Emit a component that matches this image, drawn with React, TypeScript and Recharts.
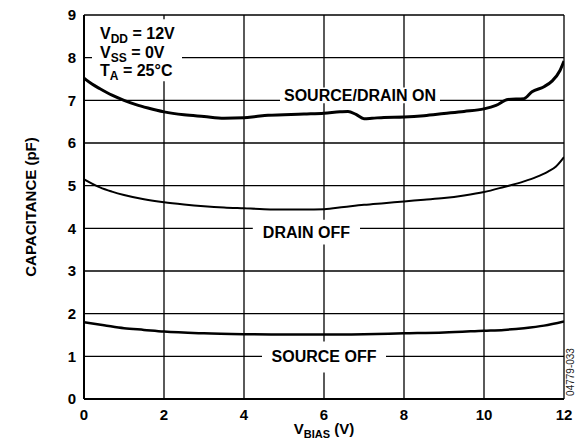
import React from "react";
import { CartesianGrid, Line, LineChart, ReferenceArea, XAxis, YAxis } from "recharts";

// values
const xTicks = [0, 2, 4, 6, 8, 10, 12];
const yTicks = [0, 1, 2, 3, 4, 5, 6, 7, 8, 9];

const onBias = [0, 0.2, 0.4, 0.7, 1.0, 1.3, 1.6, 2.0, 2.5, 3.0, 3.5, 4.0, 4.3, 4.6, 5.0, 5.5, 6.0, 6.4, 6.6, 6.8, 7.0, 7.2, 7.5, 8.0, 8.5, 9.0, 9.5, 10.0, 10.3, 10.6, 11.0, 11.2, 11.5, 11.7, 11.9, 12.0];
const onCap = [7.52, 7.38, 7.27, 7.12, 7.0, 6.9, 6.82, 6.73, 6.66, 6.62, 6.58, 6.59, 6.62, 6.65, 6.66, 6.68, 6.7, 6.73, 6.74, 6.67, 6.57, 6.58, 6.6, 6.61, 6.64, 6.69, 6.74, 6.8, 6.88, 7.02, 7.04, 7.2, 7.32, 7.45, 7.7, 7.92];

const drainBias = [0, 0.2, 0.4, 0.7, 1.0, 1.5, 2.0, 2.5, 3.0, 3.5, 4.0, 4.5, 5.0, 5.5, 6.0, 6.5, 7.0, 7.5, 8.0, 8.5, 9.0, 9.5, 10.0, 10.5, 11.0, 11.3, 11.6, 11.8, 12.0];
const drainCap = [5.15, 5.05, 4.96, 4.86, 4.78, 4.68, 4.61, 4.56, 4.52, 4.49, 4.47, 4.45, 4.44, 4.44, 4.45, 4.5, 4.55, 4.59, 4.63, 4.67, 4.71, 4.77, 4.85, 4.97, 5.1, 5.2, 5.33, 5.45, 5.67];

const sourceBias = [0, 0.5, 1.0, 1.5, 2.0, 3.0, 4.0, 5.0, 6.0, 7.0, 8.0, 9.0, 10.0, 10.5, 11.0, 11.5, 12.0];
const sourceCap = [1.8, 1.73, 1.66, 1.62, 1.58, 1.54, 1.52, 1.51, 1.51, 1.52, 1.54, 1.56, 1.6, 1.62, 1.66, 1.72, 1.82];

const toPoints = (xs: number[], ys: number[]) => xs.map((v, i) => ({ v, c: ys[i] }));

const FONT = '"Liberation Sans", Arial, sans-serif';

function centerText(text: string) {
  return (props: any) => {
    const { x, y, width, height } = props.viewBox;
    return (
      <text
        x={x + width / 2}
        y={y + height / 2}
        textAnchor="middle"
        dominantBaseline="central"
        fontFamily={FONT}
        fontWeight="bold"
        fontSize={16}
        fill="#000"
      >
        {text}
      </text>
    );
  };
}

function conditions(props: any) {
  const { x, y } = props.viewBox;
  const lines: [string, string, string][] = [
    ["V", "DD", " = 12V"],
    ["V", "SS", " = 0V"],
    ["T", "A", " = 25°C"],
  ];
  return (
    <g>
      {lines.map(([a, sub, b], i) => (
        <text key={i} x={x + 8} y={y + 20 + i * 18.5} fontFamily={FONT} fontWeight="bold" fontSize={16} fill="#000">
          <tspan>{a}</tspan>
          <tspan dy={4} fontSize={12}>{sub}</tspan>
          <tspan dy={-4}>{b}</tspan>
        </text>
      ))}
    </g>
  );
}

export default function App() {
  const tick = { fill: "#000", fontSize: 15, fontWeight: "bold", fontFamily: FONT };
  return (
    <div style={{ width: 577, height: 442, background: "#fff" }}>
      <style>{"body{margin:0}"}</style>
      <LineChart width={577} height={442} margin={{ top: 15, right: 13, left: 0, bottom: 0 }}>
        <CartesianGrid stroke="#000" strokeWidth={1.3} />
        <XAxis
          type="number"
          dataKey="v"
          domain={[0, 12]}
          ticks={xTicks}
          allowDataOverflow
          height={43}
          tickLine={false}
          axisLine={{ stroke: "#000", strokeWidth: 2 }}
          tick={tick}
          tickSize={6}
          tickMargin={4}
          label={(p: any) => {
            const { x, y, width } = p.viewBox;
            return (
              <g fontFamily={FONT} fill="#000">
                <text x={x + width / 2} y={y + 35} textAnchor="middle" fontWeight="bold" fontSize={15}>
                  <tspan>V</tspan>
                  <tspan dy={4} fontSize={11}>BIAS</tspan>
                  <tspan dy={-4}> (V)</tspan>
                </text>
                <text x={574} y={372} textAnchor="middle" fontSize={10} fill="#222" transform="rotate(-90 574 372)">
                  04779-033
                </text>
              </g>
            );
          }}
        />
        <YAxis
          type="number"
          domain={[0, 9]}
          ticks={yTicks}
          allowDataOverflow
          width={84}
          tickLine={false}
          axisLine={{ stroke: "#000", strokeWidth: 2 }}
          tick={tick}
          tickSize={6}
          tickMargin={2}
          label={(p: any) => {
            const { y, height } = p.viewBox;
            const cy = y + height / 2;
            return (
              <text
                x={30}
                y={cy}
                textAnchor="middle"
                dominantBaseline="central"
                transform={`rotate(-90 30 ${cy})`}
                fontFamily={FONT}
                fontWeight="bold"
                fontSize={15}
                fill="#000"
              >
                CAPACITANCE (pF)
              </text>
            );
          }}
        />
        <ReferenceArea x1={0.2} x2={2.45} y1={7.45} y2={8.9} fill="#fff" fillOpacity={1} stroke="none" label={conditions} />
        <ReferenceArea x1={4.9} x2={8.9} y1={6.93} y2={7.3} fill="#fff" fillOpacity={1} stroke="none" label={centerText("SOURCE/DRAIN ON")} />
        <ReferenceArea x1={4.22} x2={6.9} y1={3.62} y2={4.2} fill="#fff" fillOpacity={1} stroke="none" label={centerText("DRAIN OFF")} />
        <ReferenceArea x1={4.45} x2={7.55} y1={0.62} y2={1.35} fill="#fff" fillOpacity={1} stroke="none" label={centerText("SOURCE OFF")} />
        <Line data={toPoints(onBias, onCap)} dataKey="c" type="monotone" stroke="#000" strokeWidth={3} dot={false} isAnimationActive={false} />
        <Line data={toPoints(drainBias, drainCap)} dataKey="c" type="monotone" stroke="#000" strokeWidth={2} dot={false} isAnimationActive={false} />
        <Line data={toPoints(sourceBias, sourceCap)} dataKey="c" type="monotone" stroke="#000" strokeWidth={2.5} dot={false} isAnimationActive={false} />
      </LineChart>
    </div>
  );
}
